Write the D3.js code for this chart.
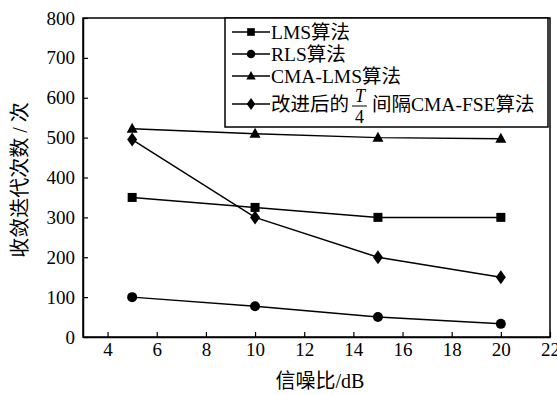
<!DOCTYPE html>
<html><head><meta charset="utf-8">
<script src="https://cdn.jsdelivr.net/npm/d3@7"></script>
<style>body{margin:0;background:#fff}</style>
</head><body>
<svg id="c" width="557" height="395"></svg>
<script>
const snr = [5, 10, 15, 20];
const lms = [350, 325, 300, 300];
const rls = [100, 77, 50, 33];
const cmaLms = [522, 510, 500, 497];
const cmaFse = [495, 300, 200, 150];
const xTicks = [4, 6, 8, 10, 12, 14, 16, 18, 20, 22];
const yTicks = [0, 100, 200, 300, 400, 500, 600, 700, 800];
const seriesNames = ["LMS算法", "RLS算法", "CMA-LMS算法", "改进后的"];

const font = "'Liberation Serif','Times New Roman','Noto Sans CJK SC',serif";
const svg = d3.select("#c");
const L = 83, R = 550, T = 18, B = 337;
const x = d3.scaleLinear().domain([3, 22]).range([L, R]);
const y = d3.scaleLinear().domain([0, 800]).range([B, T]);

svg.append("rect").attr("x", L).attr("y", T).attr("width", R - L).attr("height", B - T)
  .attr("fill", "none").attr("stroke", "#000").attr("stroke-width", 1.5);

const xa = svg.append("g").attr("transform", `translate(0,${B})`)
  .call(d3.axisBottom(x).tickValues(xTicks).tickSizeInner(-5).tickSizeOuter(0).tickPadding(6));
const ya = svg.append("g").attr("transform", `translate(${L},0)`)
  .call(d3.axisLeft(y).tickValues(yTicks).tickSizeInner(-5).tickSizeOuter(0).tickPadding(8));
[xa, ya].forEach(a => {
  a.select(".domain").attr("stroke", "#000").attr("stroke-width", 1.5);
  a.selectAll(".tick line").attr("stroke", "#000").attr("stroke-width", 1.2);
  a.selectAll("text").attr("font-family", font).attr("font-size", 19).attr("fill", "#000");
});

const series = [
  {v: lms, m: "square"}, {v: rls, m: "circle"}, {v: cmaLms, m: "triangle"}, {v: cmaFse, m: "diamond"}
];
function marker(g, type, cx, cy, s) {
  s = s || 1;
  if (type === "square") g.append("rect").attr("x", cx - 4.5*s).attr("y", cy - 4.5*s).attr("width", 9*s).attr("height", 9*s);
  else if (type === "circle") g.append("circle").attr("cx", cx).attr("cy", cy).attr("r", 5*s);
  else if (type === "triangle") g.append("path").attr("d", `M${cx},${cy-6*s}L${cx+5.5*s},${cy+4*s}L${cx-5.5*s},${cy+4*s}Z`);
  else g.append("path").attr("d", `M${cx},${cy-7*s}L${cx+5*s},${cy}L${cx},${cy+7*s}L${cx-5*s},${cy}Z`);
}
const line = d3.line().x(d => x(d[0])).y(d => y(d[1]));
series.forEach(s => {
  const pts = snr.map((d, i) => [d, s.v[i]]);
  svg.append("path").attr("d", line(pts)).attr("fill", "none").attr("stroke", "#000").attr("stroke-width", 1.5);
  const g = svg.append("g").attr("fill", "#000");
  pts.forEach(p => marker(g, s.m, x(p[0]), y(p[1])));
});

// legend
svg.append("rect").attr("x", 225).attr("y", T).attr("width", 323).attr("height", 109)
  .attr("fill", "#fff").attr("stroke", "#000").attr("stroke-width", 1.5);
const rowsY = [32, 54, 76, 104];
series.forEach((s, i) => {
  const yy = rowsY[i];
  svg.append("line").attr("x1", 232).attr("x2", 270).attr("y1", yy).attr("y2", yy)
    .attr("stroke", "#000").attr("stroke-width", 1.5);
  const g = svg.append("g").attr("fill", "#000");
  marker(g, s.m, 251, yy, 0.85);
  svg.append("text").attr("x", 271).attr("y", yy + 7).attr("font-family", font)
    .attr("font-size", 19.5).text(seriesNames[i]);
});
svg.append("text").attr("x", 360).attr("y", 102).attr("font-family", font).attr("font-size", 18)
  .attr("font-style", "italic").attr("text-anchor", "middle").text("T");
svg.append("line").attr("x1", 352).attr("x2", 367).attr("y1", 106).attr("y2", 106).attr("stroke", "#000").attr("stroke-width", 1);
svg.append("text").attr("x", 359.5).attr("y", 123).attr("font-family", font).attr("font-size", 18)
  .attr("text-anchor", "middle").text("4");
svg.append("text").attr("x", 372).attr("y", 111).attr("font-family", font).attr("font-size", 19.5)
  .text("间隔CMA-FSE算法");

// axis titles
svg.append("text").attr("x", 320).attr("y", 388).attr("text-anchor", "middle")
  .attr("font-family", font).attr("font-size", 20).text("信噪比/dB");
svg.append("text").attr("transform", "translate(27,180) rotate(-90)").attr("text-anchor", "middle")
  .attr("font-family", font).attr("font-size", 20).text("收敛迭代次数 / 次");
</script>
</body></html>
